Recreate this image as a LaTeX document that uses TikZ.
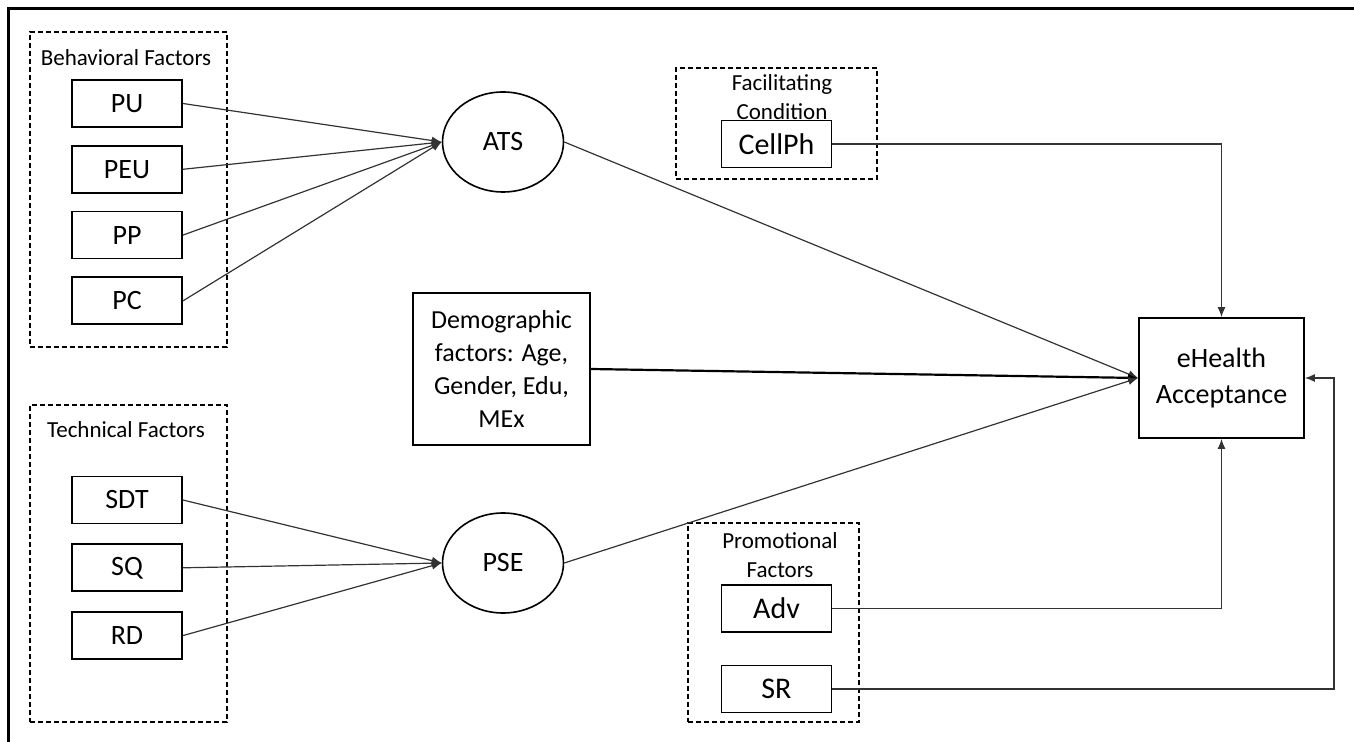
\documentclass[tikz,border=0pt]{standalone}
\usepackage{fontspec}
\setmainfont{Carlito}
\usepackage{xcolor}
\usetikzlibrary{positioning, arrows.meta, shapes.geometric}

\begin{document}
\begin{tikzpicture}[
    x=0.5pt, y=-0.5pt,
    every node/.style={inner sep=0pt, align=center},
    box/.style={
        draw,
        line width=0.9pt,
        font=\fontsize{14}{17}\selectfont,
        minimum width=55pt,
        minimum height=23.5pt
    },
    latent/.style={draw, ellipse, line width=0.8pt, font=\fontsize{14}{17}\selectfont,
        minimum width=60.5pt, minimum height=50pt},
    group/.style={draw, line width=0.8pt, dash pattern=on 2.5pt off 1.5pt},
    grouptitle/.style={font=\fontsize{11.5}{14.5}\selectfont},
    arrow/.style={-{Latex[length=5pt,width=4pt]}, line width=0.6pt, black!80}
]
\useasboundingbox (0,0) rectangle (1354,742);

% frame (top and left only)
\draw[line width=1.5pt] (8,742) -- (8,9) -- (1354,9);

% Behavioral factors
\node[group, minimum width=98.5pt, minimum height=157.5pt] (behav) at (128.5,189.5) {};
\node[grouptitle] (behavtitle) at (126,58) {Behavioral Factors};
\node[box] (pu) at (127,103.5) {PU};
\node[box] (peu) [below=8.5pt of pu] {PEU};
\node[box] (pp) [below=8.5pt of peu] {PP};
\node[box] (pc) [below=8.5pt of pp] {PC};

% Technical factors
\node[group, minimum width=98.5pt, minimum height=158.5pt] (tech) at (128.5,563.5) {};
\node[grouptitle] (techtitle) at (126,430) {Technical Factors};
\node[box] (sdt) at (127,500) {SDT};
\node[box] (sq) [below=9.5pt of sdt] {SQ};
\node[box] (rd) [below=9.5pt of sq] {RD};

% Attitude and self-efficacy
\node[latent] (ats) at (503,142) {ATS};
\node[latent] (pse) at (503,563) {PSE};

% Demographics
\node[box, minimum width=88.5pt, minimum height=76pt,
      font=\fontsize{13}{16.5}\selectfont] (demo) at (501.5,369)
      {Demographic\\factors: Age,\\Gender, Edu,\\MEx};

% Facilitating condition
\node[group, minimum width=100.5pt, minimum height=55.5pt] (facil) at (776.5,123.5) {};
\node[grouptitle] (faciltitle) at (782,97) {Facilitating\\Condition};
\node[box, font=\fontsize{15}{18}\selectfont] (cellph) at (776.5,144) {CellPh};

% Promotional factors
\node[group, minimum width=85.5pt, minimum height=99.5pt] (promo) at (773.5,622.5) {};
\node[grouptitle] (promotitle) at (780,555) {Promotional\\Factors};
\node[box, font=\fontsize{15}{18}\selectfont] (adv) at (776.5,608.5) {Adv};
\node[box, font=\fontsize{15}{18}\selectfont] (sr) at (776.5,689) {SR};

% Outcome
\node[box, minimum width=82.5pt, minimum height=60pt,
      font=\fontsize{14}{18}\selectfont] (ehealth) at (1221.5,378)
      {eHealth\\Acceptance};

% Arrows into ATS and PSE
\draw[arrow] (pu.east) -- (ats.west);
\draw[arrow] (peu.east) -- (ats.west);
\draw[arrow] (pp.east) -- (ats.west);
\draw[arrow] (pc.east) -- (ats.west);

\draw[arrow] (sdt.east) -- (pse.west);
\draw[arrow] (sq.east) -- (pse.west);
\draw[arrow] (rd.east) -- (pse.west);

% Arrows into eHealth Acceptance
\draw[arrow] (ats.east) -- (ehealth.west);
\draw[arrow, line width=1.1pt, black] (demo.east) -- (ehealth.west);
\draw[arrow] (pse.east) -- (ehealth.west);
\draw[arrow] (cellph.east) -| (ehealth.north);
\draw[arrow] (adv.east) -| (ehealth.south);
\coordinate (srturn) at (1334,689);
\draw[arrow] (sr.east) -- (srturn) |- (ehealth.east);

\end{tikzpicture}
\end{document}
